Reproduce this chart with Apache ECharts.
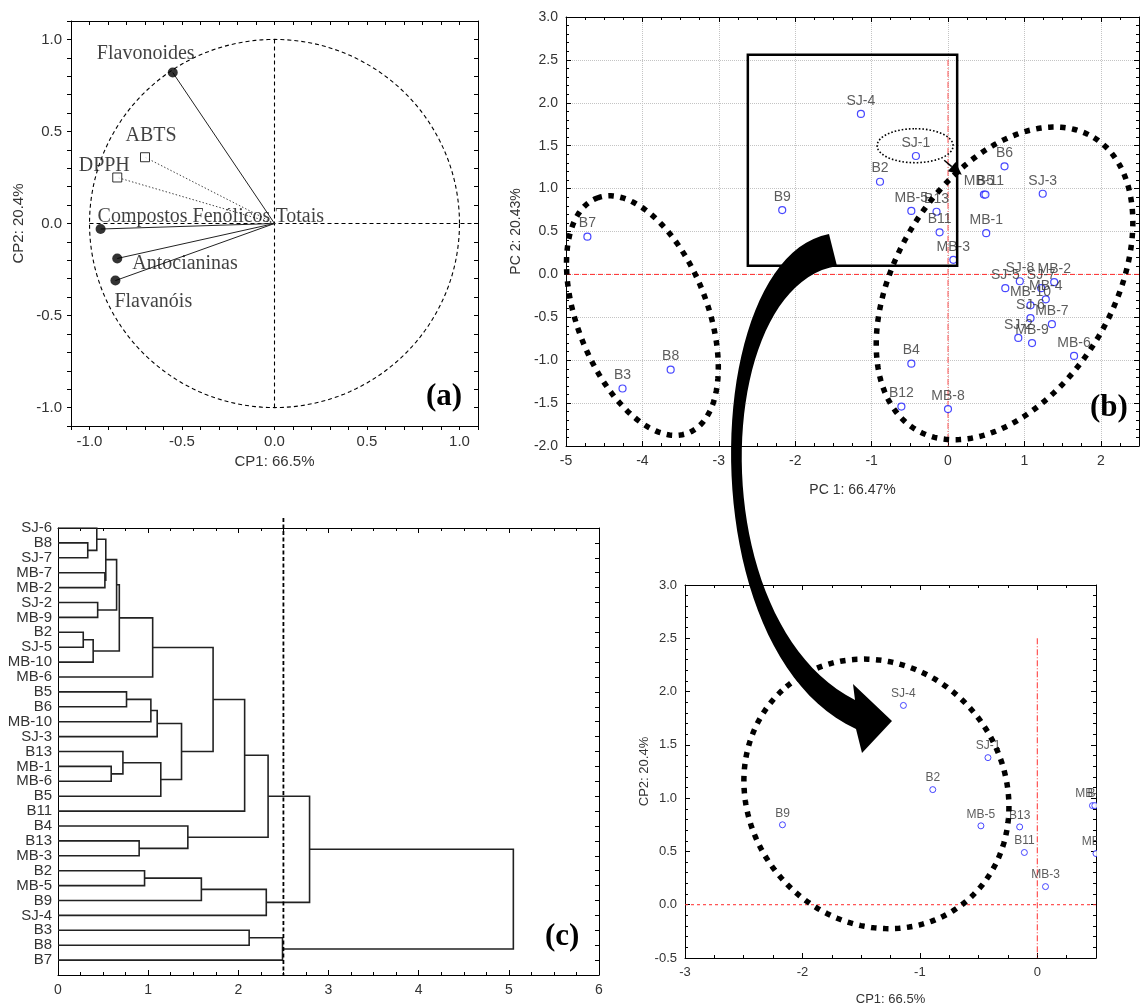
<!DOCTYPE html>
<html>
<head>
<meta charset="utf-8">
<script src="https://cdn.jsdelivr.net/npm/echarts@6.0.0/dist/echarts.min.js"></script>
<style>
html,body{margin:0;padding:0;background:#fff;}
#main{width:1140px;height:1007px;}
</style>
</head>
<body>
<div id="main"></div>
<script>
// ---------------- (a) loadings ----------------
const loadingNames = ['Flavonoides','ABTS','DPPH','Compostos Fenólicos Totais','Antocianinas','Flavanóis'];
const loadingCP1 = [-0.55, -0.70, -0.85, -0.94, -0.85, -0.86];
const loadingCP2 = [0.82, 0.36, 0.25, -0.03, -0.19, -0.31];
const loadingKind = ['filled','open','open','filled','filled','filled'];

// ---------------- (b)/(d) scores ----------------
const sampleNames = ['B7','B3','B8','B9','SJ-4','SJ-1','B2','MB-5','B13','B11','MB-3','B4','B12','MB-8','B6','MB-11','B5','SJ-3','MB-1','SJ-5','SJ-8','MB-2','SJ-7','MB-10','MB-4','SJ-6','MB-7','SJ-2','MB-9','MB-6'];
const scorePC1 = [-4.72,-4.26,-3.63,-2.17,-1.14,-0.42,-0.89,-0.48,-0.15,-0.11,0.07,-0.48,-0.61,0.00,0.74,0.47,0.49,1.24,0.50,0.75,0.94,1.39,1.22,1.08,1.28,1.08,1.36,0.92,1.10,1.65];
const scorePC2 = [0.44,-1.33,-1.11,0.75,1.87,1.38,1.08,0.74,0.73,0.49,0.17,-1.04,-1.54,-1.57,1.26,0.93,0.93,0.94,0.48,-0.16,-0.08,-0.09,-0.16,-0.36,-0.29,-0.51,-0.58,-0.74,-0.80,-0.95];

// ---------------- (c) dendrogram ----------------
const leafLabels = ['SJ-6','B8','SJ-7','MB-7','MB-2','SJ-2','MB-9','B2','SJ-5','MB-10','MB-6','B5','B6','MB-10','SJ-3','B13','MB-1','MB-6','B5','B11','B4','B13','MB-3','B2','MB-5','B9','SJ-4','B3','B8','B7'];
// [childA, childB, linkage distance]; ids 0-29 leaves, 30+ merged clusters in order
const merges = [
  [1,2,0.33],[0,30,0.43],[3,4,0.52],[31,32,0.53],[5,6,0.44],[33,34,0.65],
  [7,8,0.28],[36,9,0.39],[35,37,0.68],[38,10,1.05],
  [11,12,0.76],[40,13,1.03],[41,14,1.10],[16,17,0.59],[15,43,0.72],[44,18,1.14],
  [42,45,1.37],[39,46,1.72],[47,19,2.07],
  [21,22,0.90],[20,49,1.44],[48,50,2.33],
  [23,24,0.96],[52,25,1.59],[53,26,2.31],[51,54,2.79],
  [27,28,2.12],[56,29,2.49],[55,57,5.05]
];
const cutDistance = 2.5;

// ---------------- styles ----------------
const SANS = '"Liberation Sans", Arial, sans-serif';
const SERIF = '"Liberation Serif", "Times New Roman", serif';
const TXT = '#333';

function halfFmt(v){
  const r = Math.round(v*10)/10;
  return Math.abs(r*2 - Math.round(r*2)) < 1e-9 ? (Math.abs(r) < 1e-9 ? '0.0' : r.toFixed(1)) : '';
}
function fix1(v){ return Math.abs(v) < 1e-9 ? '0.0' : v.toFixed(1); }

function ax(extra){
  const o = {
    type:'value',
    axisLine:{show:true,onZero:false,lineStyle:{color:'#000',width:1}},
    axisTick:{show:true,inside:true,length:5,lineStyle:{color:'#000',width:1}},
    minorTick:{show:false},
    axisLabel:{show:false,color:TXT,fontFamily:SANS,fontSize:14},
    splitLine:{show:false},
    nameTextStyle:{color:TXT,fontFamily:SANS,fontSize:14},
    nameLocation:'middle'
  };
  for (const k in extra){
    if (o[k] && typeof o[k]==='object' && !Array.isArray(o[k]) && extra[k] && typeof extra[k]==='object' && !Array.isArray(extra[k])) o[k] = Object.assign({}, o[k], extra[k]);
    else o[k] = extra[k];
  }
  return o;
}
const minorX = {show:true,splitNumber:4,length:3,lineStyle:{color:'#000',width:1}};
const minorY = {show:true,splitNumber:5,length:3,lineStyle:{color:'#000',width:1}};
const gridLine = {show:true,lineStyle:{color:'#c4c4c4',type:'dotted',width:1}};

// ---------- dendrogram geometry from merges ----------
const nodeY = leafLabels.map((_,i)=>i);
const nodeH = leafLabels.map(()=>0);
const dendroData = merges.map(([a,b,h])=>{
  const ya = nodeY[a], yb = nodeY[b];
  nodeY.push((ya+yb)/2); nodeH.push(h);
  return {coords:[[nodeH[a],ya],[h,ya],[h,yb],[nodeH[b],yb]]};
});

// ---------- helpers for decorations ----------
function ellipse(c, a, b, phiDeg, n){
  const p = phiDeg*Math.PI/180, ux=Math.sin(p), uy=-Math.cos(p), vx=Math.cos(p), vy=Math.sin(p);
  const pts=[];
  for (let k=0;k<n;k++){
    const t = 2*Math.PI*k/n, ca=a*Math.cos(t), sb=b*Math.sin(t);
    pts.push([c[0]+ca*ux+sb*vx, c[1]+ca*uy+sb*vy]);
  }
  return pts;
}
const dotRing = {fill:'none',stroke:'#000',lineWidth:5.5,lineDash:[5.5,6.5],lineCap:'butt'};
function decor(xi, z, draw){
  return {type:'custom', xAxisIndex:xi, yAxisIndex:xi, silent:true, z:z, data:[[0,0]],
    renderItem:(params, api)=>({type:'group', children:draw(api)})};
}
function seg(p,q,style){ return {type:'line', shape:{x1:p[0],y1:p[1],x2:q[0],y2:q[1]}, style:style}; }

// big curved arrow (figure annotation, pixel space)
function cubic(p0,p1,p2,p3,n){
  const out=[];
  for(let i=0;i<=n;i++){const t=i/n,s=1-t;
    out.push([s*s*s*p0[0]+3*s*s*t*p1[0]+3*s*t*t*p2[0]+t*t*t*p3[0], s*s*s*p0[1]+3*s*s*t*p1[1]+3*s*t*t*p2[1]+t*t*t*p3[1]]);}
  return out;
}
const arrowOuter = cubic([829,234],[700,258],[688,652],[856,729],48);
const arrowInner = cubic([837,266],[712,286],[702,622],[855,700],48);
const arrowPts = arrowInner.concat([[853,684],[892,721],[862,753]]).concat(arrowOuter.slice().reverse());

// loadings label layout (pixel offsets from marker)
const loadingLabelLayout = [
  {align:'center', offset:[-27,-19]},
  {align:'center', offset:[6,-21]},
  {align:'center', offset:[-13,-12]},
  {align:'left', offset:[-3,-12]},
  {align:'left', offset:[15,5]},
  {align:'left', offset:[-1,21]}
];

const scoreData = scorePC1.map((x,i)=>[x, scorePC2[i], sampleNames[i]]);
const zoomData = scoreData.filter(d=>d[0]>=-3 && d[0]<=0.55 && d[1]>=-0.5 && d[1]<=3);

const option = {
  animation:false,
  backgroundColor:'#fff',
  grid:[
    {left:71, top:21, width:407, height:405, containLabel:false, outerBoundsMode:'none'},
    {left:566, top:17, width:573, height:429, containLabel:false, outerBoundsMode:'none'},
    {left:58, top:528, width:541, height:447, containLabel:false, outerBoundsMode:'none'},
    {left:685, top:585, width:411, height:373, containLabel:false, outerBoundsMode:'none'}
  ],
  xAxis:[
    ax({gridIndex:0,min:-1.1,max:1.1,interval:0.1,axisTick:{inside:false,length:4},axisLabel:{show:true,fontSize:15,margin:8,formatter:halfFmt},name:'CP1: 66.5%',nameGap:28,nameTextStyle:{fontSize:15}}),
    ax({gridIndex:0,position:'top',min:-1.1,max:1.1,interval:0.1,axisTick:{length:4}}),
    ax({gridIndex:1,min:-5,max:2.5,interval:1,minorTick:minorX,splitLine:gridLine,axisLabel:{show:true,margin:8,showMaxLabel:false},name:'PC 1: 66.47%',nameGap:37}),
    ax({gridIndex:1,position:'top',min:-5,max:2.5,interval:1,minorTick:minorX}),
    ax({gridIndex:2,min:0,max:6,interval:1,minorTick:minorX,axisLabel:{show:true,margin:8}}),
    ax({gridIndex:2,position:'top',min:0,max:6,interval:1,minorTick:minorX}),
    ax({gridIndex:3,min:-3,max:0.5,interval:1,minorTick:minorX,axisLabel:{show:true,fontSize:13,margin:8,showMaxLabel:false},name:'CP1: 66.5%',nameGap:35,nameTextStyle:{fontSize:13}}),
    ax({gridIndex:3,position:'top',min:-3,max:0.5,interval:1,minorTick:minorX})
  ],
  yAxis:[
    ax({gridIndex:0,min:-1.1,max:1.1,interval:0.1,axisTick:{inside:false,length:4},axisLabel:{show:true,fontSize:15,margin:9,formatter:halfFmt},name:'CP2: 20.4%',nameGap:45,nameTextStyle:{fontSize:15}}),
    ax({gridIndex:0,position:'right',min:-1.1,max:1.1,interval:0.1,axisTick:{length:4}}),
    ax({gridIndex:1,min:-2,max:3,interval:0.5,minorTick:minorY,splitLine:gridLine,axisLabel:{show:true,margin:8,formatter:fix1},name:'PC 2: 20.43%',nameGap:26}),
    ax({gridIndex:1,position:'right',min:-2,max:3,interval:0.5,minorTick:minorY}),
    ax({gridIndex:2,min:0,max:30,interval:1,inverse:true,axisTick:{show:false},axisLabel:{show:true,fontSize:15,margin:6,formatter:v=>{const r=Math.round(v);return Math.abs(v-r)<1e-6&&leafLabels[r]?leafLabels[r]:'';}}}),
    ax({gridIndex:2,position:'right',min:0,max:30,interval:1,inverse:true,axisTick:{length:4}}),
    ax({gridIndex:3,min:-0.5,max:3,interval:0.5,minorTick:minorY,axisLabel:{show:true,fontSize:13,margin:8,formatter:fix1},name:'CP2: 20.4%',nameGap:33,nameTextStyle:{fontSize:13}}),
    ax({gridIndex:3,position:'right',min:-0.5,max:3,interval:0.5,minorTick:minorY})
  ],
  series:[
    // ----- (a) -----
    decor(0, 1, api=>{
      const circ=[]; for(let k=0;k<180;k++){const t=2*Math.PI*k/180; circ.push(api.coord([Math.cos(t),Math.sin(t)]));}
      const dash={stroke:'#000',lineWidth:1.1,lineDash:[4,3],fill:'none'};
      return [
        {type:'polygon',shape:{points:circ},style:dash},
        seg(api.coord([0,1]),api.coord([0,-1]),dash),
        seg(api.coord([-1,0]),api.coord([1.1,0]),dash)
      ];
    }),
    {type:'lines', coordinateSystem:'cartesian2d', xAxisIndex:0, yAxisIndex:0, z:2, silent:true,
      lineStyle:{color:'#222',width:1,opacity:1},
      data: loadingCP1.map((x,i)=>({coords:[[0,0],[x,loadingCP2[i]]], lineStyle:{type: loadingKind[i]==='open'?[1.5,2]:'solid', color: loadingKind[i]==='open'?'#444':'#222'}}))},
    {type:'scatter', xAxisIndex:0, yAxisIndex:0, z:3, silent:true,
      data: loadingCP1.map((x,i)=>({
        value:[x,loadingCP2[i],loadingNames[i]],
        symbol: loadingKind[i]==='open'?'rect':'circle',
        symbolSize: loadingKind[i]==='open'?9:10,
        itemStyle: loadingKind[i]==='open'?{color:'#fff',borderColor:'#000',borderWidth:1}:{color:'#000'},
        label:{show:true,position:'inside',formatter:p=>p.value[2],align:loadingLabelLayout[i].align,verticalAlign:'middle',offset:loadingLabelLayout[i].offset,
          color:'#111',fontFamily:SERIF,fontSize:20}
      }))},
    // ----- (b) -----
    decor(2, 1, api=>{
      const red={stroke:'#ff2a2a',lineWidth:1,lineDash:[5,3]};
      return [seg(api.coord([-5,0]),api.coord([2.5,0]),red), seg(api.coord([0,2.5]),api.coord([0,-2]),{stroke:'#ff5050',lineWidth:1,lineDash:[6,2,1,2]})];
    }),
    {type:'scatter', xAxisIndex:2, yAxisIndex:2, z:3, silent:true,
      symbol:'circle', symbolSize:7,
      itemStyle:{color:'#fff',borderColor:'#1a1aff',borderWidth:1.2},
      label:{show:true,position:'top',distance:2,formatter:p=>p.value[2],color:TXT,fontFamily:SANS,fontSize:14},
      data:scoreData},
    decor(2, 6, api=>{
      const tl=api.coord([-2.62,2.56]), br=api.coord([0.12,0.10]);
      const s=api.coord([-0.05,1.33]), t=api.coord([0.18,1.16]);
      const dx=t[0]-s[0], dy=t[1]-s[1], L=Math.hypot(dx,dy), ux=dx/L, uy=dy/L, hl=13, hw=6;
      const base=[t[0]-ux*hl,t[1]-uy*hl];
      return [
        {type:'rect',shape:{x:tl[0],y:tl[1],width:br[0]-tl[0],height:br[1]-tl[1]},style:{fill:'none',stroke:'#000',lineWidth:2.5}},
        {type:'polygon',shape:{points:ellipse(api.coord([-0.43,1.50]),17,38,0,90)},style:{fill:'none',stroke:'#000',lineWidth:1.6,lineDash:[1.6,2]}},
        seg(s,base,{stroke:'#000',lineWidth:1.5}),
        {type:'polygon',shape:{points:[t,[base[0]-uy*hw,base[1]+ux*hw],[base[0]+uy*hw,base[1]-ux*hw]]},style:{fill:'#000'}},
        {type:'polygon',shape:{points:ellipse(api.coord([-4.0,-0.48]),126,65,-21.3,200)},style:dotRing},
        {type:'polygon',shape:{points:ellipse(api.coord([0.74,-0.105]),171,108,31.5,260)},style:dotRing}
      ];
    }),
    // ----- (c) -----
    {type:'lines', coordinateSystem:'cartesian2d', xAxisIndex:4, yAxisIndex:4, polyline:true, silent:true, z:2,
      lineStyle:{color:'#222',width:1.6,opacity:1}, data:dendroData},
    decor(4, 4, api=>{
      const p=api.coord([cutDistance,0]), q=api.coord([cutDistance,30]);
      return [seg([p[0],p[1]-10],q,{stroke:'#000',lineWidth:1.8,lineDash:[4,2.5]})];
    }),
    // ----- (d) -----
    decor(6, 1, api=>{
      return [seg(api.coord([-3,0]),api.coord([0.5,0]),{stroke:'#ff2a2a',lineWidth:1,lineDash:[3,3]}),
              seg(api.coord([0,2.5]),api.coord([0,-0.5]),{stroke:'#ff3030',lineWidth:1,lineDash:[6,2,1,2]})];
    }),
    {type:'scatter', xAxisIndex:6, yAxisIndex:6, z:3, silent:true, clip:false,
      symbol:'circle', symbolSize:6,
      itemStyle:{color:'#fff',borderColor:'#1a1aff',borderWidth:1},
      label:{show:true,position:'top',distance:2,formatter:p=>p.value[2],color:TXT,fontFamily:SANS,fontSize:12},
      data:zoomData},
    decor(6, 6, api=>[
      {type:'polygon',shape:{points:ellipse(api.coord([-1.37,1.04]),140,127,-40,240)},style:dotRing}
    ])
  ],
  graphic:[
    {type:'rect', z:90, silent:true, shape:{x:1097,y:580,width:60,height:440}, style:{fill:'#fff'}},
    {type:'polygon', z:100, silent:true, shape:{points:arrowPts}, style:{fill:'#000'}},
    {type:'text', z:100, left:426, top:381, style:{text:'(a)', font:'bold 31px '+SERIF, fill:'#000'}},
    {type:'text', z:100, left:1090, top:392, style:{text:'(b)', font:'bold 31px '+SERIF, fill:'#000'}},
    {type:'text', z:100, left:545, top:921, style:{text:'(c)', font:'bold 31px '+SERIF, fill:'#000'}}
  ]
};

const chart = echarts.init(document.getElementById('main'));
chart.setOption(option);
</script>
</body>
</html>
